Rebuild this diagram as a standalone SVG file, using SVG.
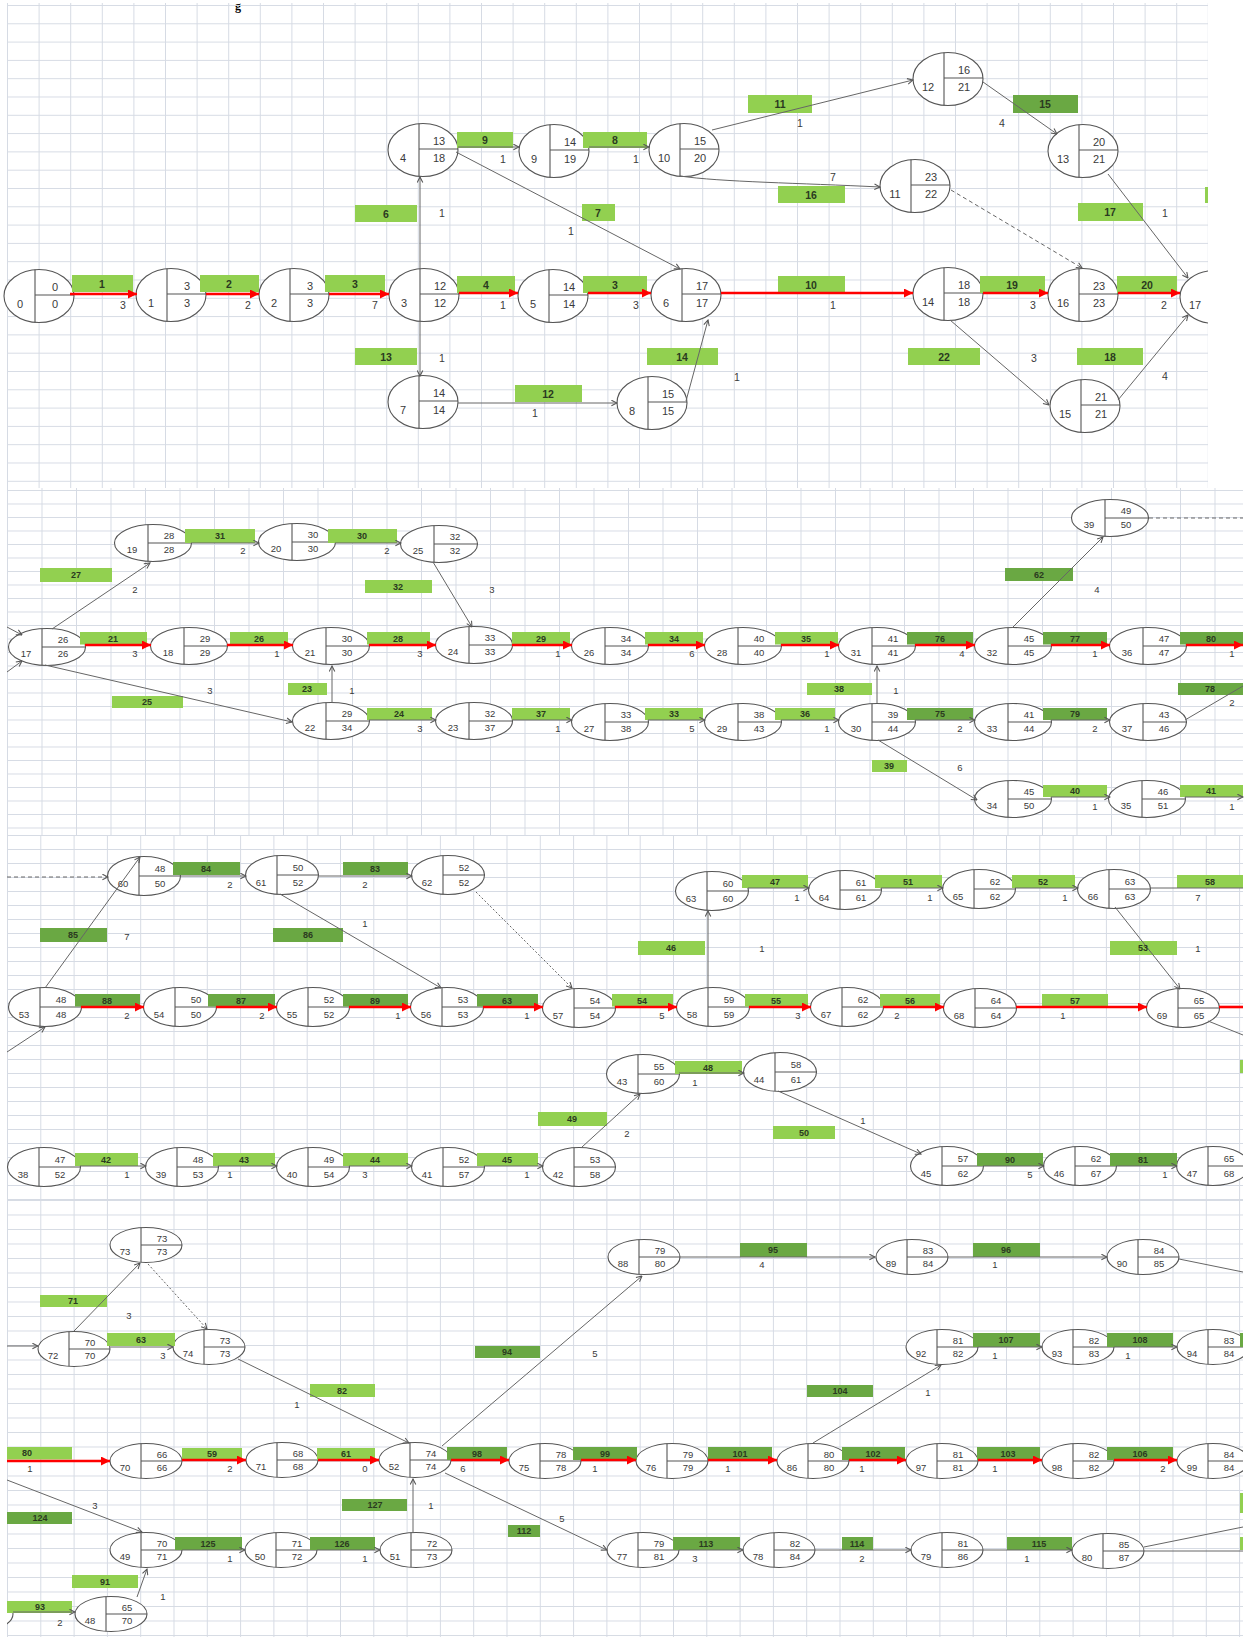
<svg xmlns="http://www.w3.org/2000/svg" width="1251" height="1637" viewBox="0 0 1251 1637">
<style>
.nd{fill:#fff;stroke:#555;stroke-width:1.1}
.dv{fill:none;stroke:#555;stroke-width:1.1}
.gl{fill:none;stroke:#666;stroke-width:1}
.cr{fill:none;stroke:#f00;stroke-width:2.6}
.ds{stroke-dasharray:4 3}
.dt{stroke-dasharray:2 2}
.b1{fill:#92d050}
.b2{fill:#6aa843}
text{font-family:"Liberation Sans",Arial,sans-serif;text-anchor:middle;dominant-baseline:central;fill:#3a3a3a}
.t1 text{font-size:11px}
.t2 text{font-size:9.5px}
.bt{font-weight:bold;font-size:9px;fill:#2a3a20}
.p1 .bt{font-size:10.5px}
.du{font-size:9.5px}
.p1 .du{font-size:10.5px}
</style>
<defs>
<pattern id="g1" x="7" y="5" width="31.6" height="18.3" patternUnits="userSpaceOnUse"><path d="M0,0.5H31.6M0.5,0V18.3" fill="none" stroke="#d6dbe4"/></pattern>
<pattern id="g2" x="7" y="490" width="34.5" height="13.5" patternUnits="userSpaceOnUse"><path d="M0,0.5H34.5M0.5,0V13.5" fill="none" stroke="#d6dbe4"/></pattern>
<pattern id="g3" x="7" y="835" width="33.3" height="14" patternUnits="userSpaceOnUse"><path d="M0,0.5H33.3M0.5,0V14" fill="none" stroke="#d6dbe4"/></pattern>
<pattern id="g4" x="7" y="1200" width="33.3" height="14.5" patternUnits="userSpaceOnUse"><path d="M0,0.5H33.3M0.5,0V14.5" fill="none" stroke="#d6dbe4"/></pattern>
<clipPath id="c1"><rect x="7" y="0" width="1201" height="490"/></clipPath>
<clipPath id="c2"><rect x="7" y="0" width="1236" height="1637"/></clipPath>
<marker id="ar" viewBox="0 0 10 10" refX="10" refY="5" markerWidth="11" markerHeight="9" markerUnits="userSpaceOnUse" orient="auto"><path d="M0,0L10,5L0,10z" fill="#f00"/></marker>
<marker id="ag" viewBox="0 0 10 10" refX="9" refY="5" markerWidth="7" markerHeight="7" markerUnits="userSpaceOnUse" orient="auto"><path d="M1,1L9,5L1,9" fill="none" stroke="#555" stroke-width="1.5"/></marker>
<g id="s1"><ellipse class="nd" rx="35" ry="26.5"/><path class="dv" d="M-4,-26.4V26.4M-4,-1H35"/></g>
<g id="s2"><ellipse class="nd" rx="38.5" ry="18.5"/><path class="dv" d="M-5,-18.3V18.3M-5,0H38.5"/></g>
<g id="s3"><ellipse class="nd" rx="36.5" ry="19.5"/><path class="dv" d="M-5,-19.3V19.3M-5,0H36.5"/></g>
<g id="s4"><ellipse class="nd" rx="36" ry="17.5"/><path class="dv" d="M-5,-17.3V17.3M-5,0H36"/></g>
</defs>
<rect width="1251" height="1637" fill="#fff"/>
<text x="238" y="6" style="font-family:'Liberation Serif',serif;font-weight:bold;font-size:12px;fill:#000">g</text>
<g id="grid">
<rect x="7" y="3" width="1201" height="485" fill="url(#g1)"/>
<rect x="7" y="488" width="1236" height="347" fill="url(#g2)"/>
<rect x="7" y="835" width="1236" height="365" fill="url(#g3)"/>
<rect x="7" y="1200" width="1236" height="437" fill="url(#g4)"/>
</g>
<g id="nodes">
<g class="t1">
<g id="p1-n0" transform="translate(39,296)"><use href="#s1"/><text x="-19" y="8">0</text><text x="16" y="-9">0</text><text x="16" y="8">0</text></g>
<g id="p1-n1" transform="translate(171,295)"><use href="#s1"/><text x="-20" y="8">1</text><text x="16" y="-9">3</text><text x="16" y="8">3</text></g>
<g id="p1-n2" transform="translate(294,295)"><use href="#s1"/><text x="-20" y="8">2</text><text x="16" y="-9">3</text><text x="16" y="8">3</text></g>
<g id="p1-n3" transform="translate(424,295)"><use href="#s1"/><text x="-20" y="8">3</text><text x="16" y="-9">12</text><text x="16" y="8">12</text></g>
<g id="p1-n4" transform="translate(423,150)"><use href="#s1"/><text x="-20" y="8">4</text><text x="16" y="-9">13</text><text x="16" y="8">18</text></g>
<g id="p1-n7" transform="translate(423,402)"><use href="#s1"/><text x="-20" y="8">7</text><text x="16" y="-9">14</text><text x="16" y="8">14</text></g>
<g id="p1-n9" transform="translate(554,151)"><use href="#s1"/><text x="-20" y="8">9</text><text x="16" y="-9">14</text><text x="16" y="8">19</text></g>
<g id="p1-n10" transform="translate(684,150)"><use href="#s1"/><text x="-20" y="8">10</text><text x="16" y="-9">15</text><text x="16" y="8">20</text></g>
<g id="p1-n5" transform="translate(553,296)"><use href="#s1"/><text x="-20" y="8">5</text><text x="16" y="-9">14</text><text x="16" y="8">14</text></g>
<g id="p1-n6" transform="translate(686,295)"><use href="#s1"/><text x="-20" y="8">6</text><text x="16" y="-9">17</text><text x="16" y="8">17</text></g>
<g id="p1-n8" transform="translate(652,403)"><use href="#s1"/><text x="-20" y="8">8</text><text x="16" y="-9">15</text><text x="16" y="8">15</text></g>
<g id="p1-n12" transform="translate(948,79)"><use href="#s1"/><text x="-20" y="8">12</text><text x="16" y="-9">16</text><text x="16" y="8">21</text></g>
<g id="p1-n13" transform="translate(1083,151)"><use href="#s1"/><text x="-20" y="8">13</text><text x="16" y="-9">20</text><text x="16" y="8">21</text></g>
<g id="p1-n11" transform="translate(915,186)"><use href="#s1"/><text x="-20" y="8">11</text><text x="16" y="-9">23</text><text x="16" y="8">22</text></g>
<g id="p1-n14" transform="translate(948,294)"><use href="#s1"/><text x="-20" y="8">14</text><text x="16" y="-9">18</text><text x="16" y="8">18</text></g>
<g id="p1-n16" transform="translate(1083,295)"><use href="#s1"/><text x="-20" y="8">16</text><text x="16" y="-9">23</text><text x="16" y="8">23</text></g>
<g id="p1-n15" transform="translate(1085,406)"><use href="#s1"/><text x="-20" y="8">15</text><text x="16" y="-9">21</text><text x="16" y="8">21</text></g>
<g id="p1-n17" clip-path="url(#c1)"><g transform="translate(1215,297)"><use href="#s1"/><text x="-20" y="8">17</text></g></g>
</g>
<g class="t2">
<g id="p2-n17" transform="translate(47,647)"><use href="#s2"/><text x="-21" y="6">17</text><text x="16" y="-8">26</text><text x="16" y="6">26</text></g>
<g id="p2-n19" transform="translate(153,543)"><use href="#s2"/><text x="-21" y="6">19</text><text x="16" y="-8">28</text><text x="16" y="6">28</text></g>
<g id="p2-n20" transform="translate(297,542)"><use href="#s2"/><text x="-21" y="6">20</text><text x="16" y="-8">30</text><text x="16" y="6">30</text></g>
<g id="p2-n25" transform="translate(439,544)"><use href="#s2"/><text x="-21" y="6">25</text><text x="16" y="-8">32</text><text x="16" y="6">32</text></g>
<g id="p2-n18" transform="translate(189,646)"><use href="#s2"/><text x="-21" y="6">18</text><text x="16" y="-8">29</text><text x="16" y="6">29</text></g>
<g id="p2-n21" transform="translate(331,646)"><use href="#s2"/><text x="-21" y="6">21</text><text x="16" y="-8">30</text><text x="16" y="6">30</text></g>
<g id="p2-n22" transform="translate(331,721)"><use href="#s2"/><text x="-21" y="6">22</text><text x="16" y="-8">29</text><text x="16" y="6">34</text></g>
<g id="p2-n24" transform="translate(474,645)"><use href="#s2"/><text x="-21" y="6">24</text><text x="16" y="-8">33</text><text x="16" y="6">33</text></g>
<g id="p2-n26" transform="translate(610,646)"><use href="#s2"/><text x="-21" y="6">26</text><text x="16" y="-8">34</text><text x="16" y="6">34</text></g>
<g id="p2-n28" transform="translate(743,646)"><use href="#s2"/><text x="-21" y="6">28</text><text x="16" y="-8">40</text><text x="16" y="6">40</text></g>
<g id="p2-n23" transform="translate(474,721)"><use href="#s2"/><text x="-21" y="6">23</text><text x="16" y="-8">32</text><text x="16" y="6">37</text></g>
<g id="p2-n27" transform="translate(610,722)"><use href="#s2"/><text x="-21" y="6">27</text><text x="16" y="-8">33</text><text x="16" y="6">38</text></g>
<g id="p2-n29" transform="translate(743,722)"><use href="#s2"/><text x="-21" y="6">29</text><text x="16" y="-8">38</text><text x="16" y="6">43</text></g>
<g id="p2-n31" transform="translate(877,646)"><use href="#s2"/><text x="-21" y="6">31</text><text x="16" y="-8">41</text><text x="16" y="6">41</text></g>
<g id="p2-n32" transform="translate(1013,646)"><use href="#s2"/><text x="-21" y="6">32</text><text x="16" y="-8">45</text><text x="16" y="6">45</text></g>
<g id="p2-n36" transform="translate(1148,646)"><use href="#s2"/><text x="-21" y="6">36</text><text x="16" y="-8">47</text><text x="16" y="6">47</text></g>
<g id="p2-n39" transform="translate(1110,518)"><use href="#s2"/><text x="-21" y="6">39</text><text x="16" y="-8">49</text><text x="16" y="6">50</text></g>
<g id="p2-n30" transform="translate(877,722)"><use href="#s2"/><text x="-21" y="6">30</text><text x="16" y="-8">39</text><text x="16" y="6">44</text></g>
<g id="p2-n33" transform="translate(1013,722)"><use href="#s2"/><text x="-21" y="6">33</text><text x="16" y="-8">41</text><text x="16" y="6">44</text></g>
<g id="p2-n37" transform="translate(1148,722)"><use href="#s2"/><text x="-21" y="6">37</text><text x="16" y="-8">43</text><text x="16" y="6">46</text></g>
<g id="p2-n34" transform="translate(1013,799)"><use href="#s2"/><text x="-21" y="6">34</text><text x="16" y="-8">45</text><text x="16" y="6">50</text></g>
<g id="p2-n35" transform="translate(1147,799)"><use href="#s2"/><text x="-21" y="6">35</text><text x="16" y="-8">46</text><text x="16" y="6">51</text></g>

<g id="p3-n60" transform="translate(144,876)"><use href="#s3"/><text x="-21" y="7">60</text><text x="16" y="-8">48</text><text x="16" y="7">50</text></g>
<g id="p3-n61" transform="translate(282,875)"><use href="#s3"/><text x="-21" y="7">61</text><text x="16" y="-8">50</text><text x="16" y="7">52</text></g>
<g id="p3-n62" transform="translate(448,875)"><use href="#s3"/><text x="-21" y="7">62</text><text x="16" y="-8">52</text><text x="16" y="7">52</text></g>
<g id="p3-n53" transform="translate(45,1007)"><use href="#s3"/><text x="-21" y="7">53</text><text x="16" y="-8">48</text><text x="16" y="7">48</text></g>
<g id="p3-n54" transform="translate(180,1007)"><use href="#s3"/><text x="-21" y="7">54</text><text x="16" y="-8">50</text><text x="16" y="7">50</text></g>
<g id="p3-n55" transform="translate(313,1007)"><use href="#s3"/><text x="-21" y="7">55</text><text x="16" y="-8">52</text><text x="16" y="7">52</text></g>
<g id="p3-n56" transform="translate(447,1007)"><use href="#s3"/><text x="-21" y="7">56</text><text x="16" y="-8">53</text><text x="16" y="7">53</text></g>
<g id="p3-n57" transform="translate(579,1008)"><use href="#s3"/><text x="-21" y="7">57</text><text x="16" y="-8">54</text><text x="16" y="7">54</text></g>
<g id="p3-n58" transform="translate(713,1007)"><use href="#s3"/><text x="-21" y="7">58</text><text x="16" y="-8">59</text><text x="16" y="7">59</text></g>
<g id="p3-n67" transform="translate(847,1007)"><use href="#s3"/><text x="-21" y="7">67</text><text x="16" y="-8">62</text><text x="16" y="7">62</text></g>
<g id="p3-n63" transform="translate(712,891)"><use href="#s3"/><text x="-21" y="7">63</text><text x="16" y="-8">60</text><text x="16" y="7">60</text></g>
<g id="p3-n64" transform="translate(845,890)"><use href="#s3"/><text x="-21" y="7">64</text><text x="16" y="-8">61</text><text x="16" y="7">61</text></g>
<g id="p3-n65" transform="translate(979,889)"><use href="#s3"/><text x="-21" y="7">65</text><text x="16" y="-8">62</text><text x="16" y="7">62</text></g>
<g id="p3-n66" transform="translate(1114,889)"><use href="#s3"/><text x="-21" y="7">66</text><text x="16" y="-8">63</text><text x="16" y="7">63</text></g>
<g id="p3-n68" transform="translate(980,1008)"><use href="#s3"/><text x="-21" y="7">68</text><text x="16" y="-8">64</text><text x="16" y="7">64</text></g>
<g id="p3-n69" transform="translate(1183,1008)"><use href="#s3"/><text x="-21" y="7">69</text><text x="16" y="-8">65</text><text x="16" y="7">65</text></g>
<g id="p3-n38" transform="translate(44,1167)"><use href="#s3"/><text x="-21" y="7">38</text><text x="16" y="-8">47</text><text x="16" y="7">52</text></g>
<g id="p3-n39" transform="translate(182,1167)"><use href="#s3"/><text x="-21" y="7">39</text><text x="16" y="-8">48</text><text x="16" y="7">53</text></g>
<g id="p3-n40" transform="translate(313,1167)"><use href="#s3"/><text x="-21" y="7">40</text><text x="16" y="-8">49</text><text x="16" y="7">54</text></g>
<g id="p3-n41" transform="translate(448,1167)"><use href="#s3"/><text x="-21" y="7">41</text><text x="16" y="-8">52</text><text x="16" y="7">57</text></g>
<g id="p3-n42" transform="translate(579,1167)"><use href="#s3"/><text x="-21" y="7">42</text><text x="16" y="-8">53</text><text x="16" y="7">58</text></g>
<g id="p3-n43" transform="translate(643,1074)"><use href="#s3"/><text x="-21" y="7">43</text><text x="16" y="-8">55</text><text x="16" y="7">60</text></g>
<g id="p3-n44" transform="translate(780,1072)"><use href="#s3"/><text x="-21" y="7">44</text><text x="16" y="-8">58</text><text x="16" y="7">61</text></g>
<g id="p3-n45" transform="translate(947,1166)"><use href="#s3"/><text x="-21" y="7">45</text><text x="16" y="-8">57</text><text x="16" y="7">62</text></g>
<g id="p3-n46" transform="translate(1080,1166)"><use href="#s3"/><text x="-21" y="7">46</text><text x="16" y="-8">62</text><text x="16" y="7">67</text></g>
<g id="p3-n47" clip-path="url(#c2)"><g transform="translate(1213,1166)"><use href="#s3"/><text x="-21" y="7">47</text><text x="16" y="-8">65</text><text x="16" y="7">68</text></g></g>

<g id="p4-n73" transform="translate(146,1245)"><use href="#s4"/><text x="-21" y="6">73</text><text x="16" y="-7">73</text><text x="16" y="6">73</text></g>
<g id="p4-n72" transform="translate(74,1349)"><use href="#s4"/><text x="-21" y="6">72</text><text x="16" y="-7">70</text><text x="16" y="6">70</text></g>
<g id="p4-n74" transform="translate(209,1347)"><use href="#s4"/><text x="-21" y="6">74</text><text x="16" y="-7">73</text><text x="16" y="6">73</text></g>
<g id="p4-n70" transform="translate(146,1461)"><use href="#s4"/><text x="-21" y="6">70</text><text x="16" y="-7">66</text><text x="16" y="6">66</text></g>
<g id="p4-n71" transform="translate(282,1460)"><use href="#s4"/><text x="-21" y="6">71</text><text x="16" y="-7">68</text><text x="16" y="6">68</text></g>
<g id="p4-n52" transform="translate(415,1460)"><use href="#s4"/><text x="-21" y="6">52</text><text x="16" y="-7">74</text><text x="16" y="6">74</text></g>
<g id="p4-n49" transform="translate(146,1550)"><use href="#s4"/><text x="-21" y="6">49</text><text x="16" y="-7">70</text><text x="16" y="6">71</text></g>
<g id="p4-n50" transform="translate(281,1550)"><use href="#s4"/><text x="-21" y="6">50</text><text x="16" y="-7">71</text><text x="16" y="6">72</text></g>
<g id="p4-n51" transform="translate(416,1550)"><use href="#s4"/><text x="-21" y="6">51</text><text x="16" y="-7">72</text><text x="16" y="6">73</text></g>
<g id="p4-n48" transform="translate(111,1614)"><use href="#s4"/><text x="-21" y="6">48</text><text x="16" y="-7">65</text><text x="16" y="6">70</text></g>
<g id="p4-n47" clip-path="url(#c2)"><ellipse class="nd" cx="-23" cy="1614" rx="36" ry="17.5"/></g>
<g id="p4-n88" transform="translate(644,1257)"><use href="#s4"/><text x="-21" y="6">88</text><text x="16" y="-7">79</text><text x="16" y="6">80</text></g>
<g id="p4-n75" transform="translate(545,1461)"><use href="#s4"/><text x="-21" y="6">75</text><text x="16" y="-7">78</text><text x="16" y="6">78</text></g>
<g id="p4-n76" transform="translate(672,1461)"><use href="#s4"/><text x="-21" y="6">76</text><text x="16" y="-7">79</text><text x="16" y="6">79</text></g>
<g id="p4-n86" transform="translate(813,1461)"><use href="#s4"/><text x="-21" y="6">86</text><text x="16" y="-7">80</text><text x="16" y="6">80</text></g>
<g id="p4-n77" transform="translate(643,1550)"><use href="#s4"/><text x="-21" y="6">77</text><text x="16" y="-7">79</text><text x="16" y="6">81</text></g>
<g id="p4-n78" transform="translate(779,1550)"><use href="#s4"/><text x="-21" y="6">78</text><text x="16" y="-7">82</text><text x="16" y="6">84</text></g>
<g id="p4-n89" transform="translate(912,1257)"><use href="#s4"/><text x="-21" y="6">89</text><text x="16" y="-7">83</text><text x="16" y="6">84</text></g>
<g id="p4-n90" transform="translate(1143,1257)"><use href="#s4"/><text x="-21" y="6">90</text><text x="16" y="-7">84</text><text x="16" y="6">85</text></g>
<g id="p4-n92" transform="translate(942,1347)"><use href="#s4"/><text x="-21" y="6">92</text><text x="16" y="-7">81</text><text x="16" y="6">82</text></g>
<g id="p4-n93" transform="translate(1078,1347)"><use href="#s4"/><text x="-21" y="6">93</text><text x="16" y="-7">82</text><text x="16" y="6">83</text></g>
<g id="p4-n94" clip-path="url(#c2)"><g transform="translate(1213,1347)"><use href="#s4"/><text x="-21" y="6">94</text><text x="16" y="-7">83</text><text x="16" y="6">84</text></g></g>
<g id="p4-n97" transform="translate(942,1461)"><use href="#s4"/><text x="-21" y="6">97</text><text x="16" y="-7">81</text><text x="16" y="6">81</text></g>
<g id="p4-n98" transform="translate(1078,1461)"><use href="#s4"/><text x="-21" y="6">98</text><text x="16" y="-7">82</text><text x="16" y="6">82</text></g>
<g id="p4-n99" clip-path="url(#c2)"><g transform="translate(1213,1461)"><use href="#s4"/><text x="-21" y="6">99</text><text x="16" y="-7">84</text><text x="16" y="6">84</text></g></g>
<g id="p4-n79" transform="translate(947,1550)"><use href="#s4"/><text x="-21" y="6">79</text><text x="16" y="-7">81</text><text x="16" y="6">86</text></g>
<g id="p4-n80" transform="translate(1108,1551)"><use href="#s4"/><text x="-21" y="6">80</text><text x="16" y="-7">85</text><text x="16" y="6">87</text></g>
</g>
</g>
<g id="connectors">
<g class="p1">
<g id="e1-0-1"><rect class="b1" x="72" y="275" width="61" height="17"/><line class="cr" x1="70" y1="294" x2="137" y2="294" marker-end="url(#ar)"/><text class="bt" x="102" y="283.5">1</text><text class="du" x="123" y="305">3</text></g>
<g id="e1-1-2"><rect class="b1" x="200" y="275" width="59" height="17"/><line class="cr" x1="206" y1="294" x2="259" y2="294" marker-end="url(#ar)"/><text class="bt" x="229" y="283.5">2</text><text class="du" x="248" y="305">2</text></g>
<g id="e1-2-3"><rect class="b1" x="325" y="275" width="60" height="17"/><line class="cr" x1="329" y1="294" x2="389" y2="294" marker-end="url(#ar)"/><text class="bt" x="355" y="283.5">3</text><text class="du" x="375" y="305">7</text></g>
<g id="e1-3-5"><rect class="b1" x="457" y="276" width="58" height="17"/><line class="cr" x1="459" y1="293" x2="518" y2="293" marker-end="url(#ar)"/><text class="bt" x="486" y="284.5">4</text><text class="du" x="503" y="305">1</text></g>
<g id="e1-5-6"><rect class="b1" x="583" y="276" width="64" height="17"/><line class="cr" x1="588" y1="293" x2="651" y2="293" marker-end="url(#ar)"/><text class="bt" x="615" y="284.5">3</text><text class="du" x="636" y="305">3</text></g>
<g id="e1-6-14"><rect class="b1" x="778" y="276" width="67" height="17"/><line class="cr" x1="721" y1="293" x2="913" y2="293" marker-end="url(#ar)"/><text class="bt" x="811" y="284.5">10</text><text class="du" x="833" y="305">1</text></g>
<g id="e1-14-16"><rect class="b1" x="980" y="276" width="65" height="17"/><line class="cr" x1="983" y1="293" x2="1048" y2="293" marker-end="url(#ar)"/><text class="bt" x="1012" y="284.5">19</text><text class="du" x="1033" y="305">3</text></g>
<g id="e1-16-17"><rect class="b1" x="1117" y="276" width="60" height="17"/><line class="cr" x1="1118" y1="293" x2="1180" y2="293" marker-end="url(#ar)"/><text class="bt" x="1147" y="284.5">20</text><text class="du" x="1164" y="305">2</text></g>
<g id="e1-3-4"><rect class="b1" x="355" y="205" width="62" height="17"/><line class="gl" x1="420" y1="269" x2="420" y2="177" marker-end="url(#ag)"/><text class="bt" x="386" y="213.5">6</text><text class="du" x="442" y="213">1</text></g>
<g id="e1-3-7"><rect class="b1" x="355" y="348" width="62" height="17"/><line class="gl" x1="420" y1="322" x2="420" y2="376" marker-end="url(#ag)"/><text class="bt" x="386" y="356.5">13</text><text class="du" x="442" y="358">1</text></g>
<g id="e1-4-9"><rect class="b1" x="457" y="132" width="56" height="16"/><line class="gl" x1="458" y1="147" x2="519" y2="147" marker-end="url(#ag)"/><text class="bt" x="485" y="140">9</text><text class="du" x="503" y="159">1</text></g>
<g id="e1-9-10"><rect class="b1" x="583" y="132" width="64" height="16"/><line class="gl" x1="589" y1="147" x2="649" y2="147" marker-end="url(#ag)"/><text class="bt" x="615" y="140">8</text><text class="du" x="636" y="159">1</text></g>
<g id="e1-4-6"><rect class="b1" x="582" y="204" width="33" height="17"/><line class="gl" x1="456" y1="152" x2="680" y2="269" marker-end="url(#ag)"/><text class="bt" x="598" y="212.5">7</text><text class="du" x="571" y="231">1</text></g>
<g id="e1-7-8"><rect class="b1" x="515" y="385" width="67" height="17"/><line class="gl" x1="458" y1="403" x2="617" y2="403" marker-end="url(#ag)"/><text class="bt" x="548" y="393.5">12</text><text class="du" x="535" y="413">1</text></g>
<g id="e1-8-6"><rect class="b1" x="647" y="348" width="71" height="17"/><line class="gl" x1="686" y1="401" x2="708" y2="320" marker-end="url(#ag)"/><text class="bt" x="682" y="356.5">14</text><text class="du" x="737" y="377">1</text></g>
<g id="e1-10-12"><rect class="b1" x="748" y="95" width="64" height="18"/><line class="gl" x1="712" y1="130" x2="913" y2="80" marker-end="url(#ag)"/><text class="bt" x="780" y="104">11</text><text class="du" x="800" y="123">1</text></g>
<g id="e1-10-11"><rect class="b1" x="778" y="186" width="67" height="17"/><path class="gl" d="M680,176C720,182 800,183 880,187" marker-end="url(#ag)"/><text class="bt" x="811" y="194.5">16</text><text class="du" x="833" y="177">7</text></g>
<g id="e1-12-13"><rect class="b2" x="1013" y="95" width="65" height="18"/><line class="gl" x1="983" y1="82" x2="1057" y2="134" marker-end="url(#ag)"/><text class="bt" x="1045" y="104">15</text><text class="du" x="1002" y="123">4</text></g>
<g id="e1-11-16"><line class="gl ds" x1="951" y1="190" x2="1082" y2="268" marker-end="url(#ag)"/></g>
<g id="e1-13-17"><rect class="b1" x="1078" y="203" width="65" height="18"/><line class="gl" x1="1108" y1="174" x2="1188" y2="278" marker-end="url(#ag)"/><text class="bt" x="1110" y="212">17</text><text class="du" x="1165" y="213">1</text></g>
<g id="e1-14-15"><rect class="b1" x="908" y="348" width="72" height="17"/><line class="gl" x1="950" y1="320" x2="1049" y2="405" marker-end="url(#ag)"/><text class="bt" x="944" y="356.5">22</text><text class="du" x="1034" y="358">3</text></g>
<g id="e1-15-17"><rect class="b1" x="1077" y="348" width="66" height="17"/><line class="gl" x1="1118" y1="400" x2="1188" y2="315" marker-end="url(#ag)"/><text class="bt" x="1110" y="356.5">18</text><text class="du" x="1165" y="376">4</text></g>
<rect class="b1" x="1205" y="187" width="3" height="16"/>
</g>
<g class="p2">
<g id="e2-in1"><line class="gl" x1="7" y1="627" x2="22" y2="635" marker-end="url(#ag)"/></g>
<g id="e2-in2"><line class="gl" x1="7" y1="672" x2="22" y2="661" marker-end="url(#ag)"/></g>
<g id="e2-17-19"><rect class="b1" x="40" y="568" width="72" height="14"/><line class="gl" x1="52" y1="629" x2="150" y2="563" marker-end="url(#ag)"/><text class="bt" x="76" y="575">27</text><text class="du" x="135" y="589">2</text></g>
<g id="e2-19-20"><rect class="b1" x="185" y="529" width="70" height="14"/><line class="gl" x1="191" y1="543" x2="259" y2="543" marker-end="url(#ag)"/><text class="bt" x="220" y="536">31</text><text class="du" x="243" y="550">2</text></g>
<g id="e2-20-25"><rect class="b1" x="328" y="529" width="69" height="14"/><line class="gl" x1="335" y1="543" x2="401" y2="543" marker-end="url(#ag)"/><text class="bt" x="362" y="536">30</text><text class="du" x="387" y="550">2</text></g>
<g id="e2-25-24"><rect class="b1" x="365" y="580" width="67" height="13"/><line class="gl" x1="433" y1="562" x2="472" y2="627" marker-end="url(#ag)"/><text class="bt" x="398" y="586.5">32</text><text class="du" x="492" y="589">3</text></g>
<g id="e2-17-18"><rect class="b1" x="80" y="632" width="67" height="12.5"/><line class="cr" x1="85" y1="645" x2="151" y2="645" marker-end="url(#ar)"/><text class="bt" x="113" y="638.5">21</text><text class="du" x="135" y="653">3</text></g>
<g id="e2-18-21"><rect class="b1" x="230" y="632" width="58" height="12.5"/><line class="cr" x1="227" y1="645" x2="293" y2="645" marker-end="url(#ar)"/><text class="bt" x="259" y="638.5">26</text><text class="du" x="277" y="653">1</text></g>
<g id="e2-21-24"><rect class="b1" x="367" y="632" width="63" height="12.5"/><line class="cr" x1="369" y1="645" x2="436" y2="645" marker-end="url(#ar)"/><text class="bt" x="398" y="638.5">28</text><text class="du" x="420" y="653">3</text></g>
<g id="e2-24-26"><rect class="b1" x="512" y="632" width="58" height="12.5"/><line class="cr" x1="512" y1="645" x2="572" y2="645" marker-end="url(#ar)"/><text class="bt" x="541" y="638.5">29</text><text class="du" x="558" y="653">1</text></g>
<g id="e2-26-28"><rect class="b1" x="645" y="632" width="58" height="12.5"/><line class="cr" x1="648" y1="645" x2="705" y2="645" marker-end="url(#ar)"/><text class="bt" x="674" y="638.5">34</text><text class="du" x="692" y="653">6</text></g>
<g id="e2-28-31"><rect class="b1" x="775" y="632" width="63" height="12.5"/><line class="cr" x1="781" y1="645" x2="839" y2="645" marker-end="url(#ar)"/><text class="bt" x="806" y="638.5">35</text><text class="du" x="827" y="653">1</text></g>
<g id="e2-31-32"><rect class="b2" x="907" y="632" width="66" height="12.5"/><line class="cr" x1="915" y1="645" x2="975" y2="645" marker-end="url(#ar)"/><text class="bt" x="940" y="638.5">76</text><text class="du" x="962" y="653">4</text></g>
<g id="e2-32-36"><rect class="b2" x="1043" y="632" width="64" height="12.5"/><line class="cr" x1="1051" y1="645" x2="1110" y2="645" marker-end="url(#ar)"/><text class="bt" x="1075" y="638.5">77</text><text class="du" x="1095" y="653">1</text></g>
<g id="e2-36-out"><rect class="b2" x="1180" y="632" width="63" height="12.5"/><line class="cr" x1="1186" y1="645" x2="1243" y2="645" marker-end="url(#ar)"/><text class="bt" x="1211" y="638.5">80</text><text class="du" x="1232" y="653">1</text></g>
<g id="e2-32-39"><rect class="b2" x="1005" y="568" width="68" height="13"/><line class="gl" x1="1012" y1="628" x2="1103" y2="537" marker-end="url(#ag)"/><text class="bt" x="1039" y="574.5">62</text><text class="du" x="1097" y="589">4</text></g>
<g id="e2-39-out"><line class="gl ds" x1="1149" y1="518" x2="1243" y2="518"/></g>
<g id="e2-17-22"><rect class="b1" x="112" y="696" width="71" height="12"/><line class="gl" x1="45" y1="665" x2="292" y2="722" marker-end="url(#ag)"/><text class="bt" x="147" y="702">25</text><text class="du" x="210" y="690">3</text></g>
<g id="e2-22-21"><rect class="b1" x="288" y="683" width="39" height="12"/><line class="gl" x1="332" y1="703" x2="332" y2="666" marker-end="url(#ag)"/><text class="bt" x="307" y="689">23</text><text class="du" x="352" y="690">1</text></g>
<g id="e2-22-23"><rect class="b1" x="367" y="708" width="65" height="12"/><line class="gl" x1="369" y1="720" x2="436" y2="720" marker-end="url(#ag)"/><text class="bt" x="399" y="714">24</text><text class="du" x="420" y="728">3</text></g>
<g id="e2-23-27"><rect class="b1" x="512" y="708" width="58" height="12"/><line class="gl" x1="512" y1="720" x2="572" y2="720" marker-end="url(#ag)"/><text class="bt" x="541" y="714">37</text><text class="du" x="558" y="728">1</text></g>
<g id="e2-27-29"><rect class="b1" x="645" y="708" width="58" height="12"/><line class="gl" x1="648" y1="720" x2="705" y2="720" marker-end="url(#ag)"/><text class="bt" x="674" y="714">33</text><text class="du" x="692" y="728">5</text></g>
<g id="e2-29-30"><rect class="b1" x="775" y="708" width="60" height="12"/><line class="gl" x1="781" y1="720" x2="839" y2="720" marker-end="url(#ag)"/><text class="bt" x="805" y="714">36</text><text class="du" x="827" y="728">1</text></g>
<g id="e2-30-31"><rect class="b1" x="807" y="683" width="65" height="12"/><line class="gl" x1="877" y1="703" x2="877" y2="666" marker-end="url(#ag)"/><text class="bt" x="839" y="689">38</text><text class="du" x="896" y="690">1</text></g>
<g id="e2-30-33"><rect class="b2" x="907" y="708" width="66" height="12"/><line class="gl" x1="915" y1="720" x2="975" y2="720" marker-end="url(#ag)"/><text class="bt" x="940" y="714">75</text><text class="du" x="960" y="728">2</text></g>
<g id="e2-33-37"><rect class="b2" x="1043" y="708" width="64" height="12"/><line class="gl" x1="1051" y1="720" x2="1110" y2="720" marker-end="url(#ag)"/><text class="bt" x="1075" y="714">79</text><text class="du" x="1095" y="728">2</text></g>
<g id="e2-37-out"><rect class="b2" x="1178" y="683" width="65" height="12"/><line class="gl" x1="1185" y1="720" x2="1243" y2="686"/><text class="bt" x="1210" y="689">78</text><text class="du" x="1232" y="702">2</text></g>
<g id="e2-30-34"><rect class="b1" x="872" y="760" width="35" height="12"/><line class="gl" x1="878" y1="740" x2="977" y2="800" marker-end="url(#ag)"/><text class="bt" x="889" y="766">39</text><text class="du" x="960" y="767">6</text></g>
<g id="e2-34-35"><rect class="b1" x="1043" y="785" width="64" height="12"/><line class="gl" x1="1051" y1="797" x2="1110" y2="797" marker-end="url(#ag)"/><text class="bt" x="1075" y="791">40</text><text class="du" x="1095" y="806">1</text></g>
<g id="e2-35-out"><rect class="b1" x="1180" y="785" width="63" height="12"/><line class="gl" x1="1185" y1="797" x2="1243" y2="797" marker-end="url(#ag)"/><text class="bt" x="1211" y="791">41</text><text class="du" x="1232" y="806">1</text></g>
</g>
<g class="p3">
<g id="e3-in60"><line class="gl ds" x1="7" y1="877" x2="108" y2="877" marker-end="url(#ag)"/></g>
<g id="e3-53-60"><rect class="b2" x="40" y="928" width="67" height="14"/><line class="gl" x1="45" y1="988" x2="140" y2="857" marker-end="url(#ag)"/><text class="bt" x="73" y="935">85</text><text class="du" x="127" y="936">7</text></g>
<g id="e3-in53"><line class="gl" x1="7" y1="1052" x2="45" y2="1027" marker-end="url(#ag)"/></g>
<g id="e3-60-61"><rect class="b2" x="173" y="862" width="67" height="13"/><line class="gl" x1="180" y1="876" x2="246" y2="876" marker-end="url(#ag)"/><text class="bt" x="206" y="868.5">84</text><text class="du" x="230" y="884">2</text></g>
<g id="e3-61-62"><rect class="b2" x="343" y="862" width="65" height="13"/><line class="gl" x1="318" y1="876" x2="412" y2="876" marker-end="url(#ag)"/><text class="bt" x="375" y="868.5">83</text><text class="du" x="365" y="884">2</text></g>
<g id="e3-61-56"><rect class="b2" x="273" y="928" width="70" height="14"/><line class="gl" x1="280" y1="894" x2="441" y2="988" marker-end="url(#ag)"/><text class="bt" x="308" y="935">86</text><text class="du" x="365" y="923">1</text></g>
<g id="e3-62-57"><line class="gl dt" x1="476" y1="892" x2="572" y2="988" marker-end="url(#ag)"/></g>
<g id="e3-53-54"><rect class="b2" x="75" y="994" width="65" height="12.5"/><line class="cr" x1="81" y1="1007" x2="144" y2="1007" marker-end="url(#ar)"/><text class="bt" x="107" y="1000.5">88</text><text class="du" x="127" y="1015">2</text></g>
<g id="e3-54-55"><rect class="b2" x="208" y="994" width="67" height="12.5"/><line class="cr" x1="216" y1="1007" x2="277" y2="1007" marker-end="url(#ar)"/><text class="bt" x="241" y="1000.5">87</text><text class="du" x="262" y="1015">2</text></g>
<g id="e3-55-56"><rect class="b2" x="343" y="994" width="65" height="12.5"/><line class="cr" x1="349" y1="1007" x2="411" y2="1007" marker-end="url(#ar)"/><text class="bt" x="375" y="1000.5">89</text><text class="du" x="398" y="1015">1</text></g>
<g id="e3-56-57"><rect class="b2" x="477" y="994" width="61" height="12.5"/><line class="cr" x1="483" y1="1007" x2="543" y2="1007" marker-end="url(#ar)"/><text class="bt" x="507" y="1000.5">63</text><text class="du" x="527" y="1015">1</text></g>
<g id="e3-57-58"><rect class="b1" x="612" y="994" width="61" height="12.5"/><line class="cr" x1="615" y1="1007" x2="677" y2="1007" marker-end="url(#ar)"/><text class="bt" x="642" y="1000.5">54</text><text class="du" x="662" y="1015">5</text></g>
<g id="e3-58-67"><rect class="b1" x="745" y="994" width="63" height="12.5"/><line class="cr" x1="749" y1="1007" x2="811" y2="1007" marker-end="url(#ar)"/><text class="bt" x="776" y="1000.5">55</text><text class="du" x="798" y="1015">3</text></g>
<g id="e3-67-68"><rect class="b1" x="880" y="994" width="60" height="12.5"/><line class="cr" x1="883" y1="1007" x2="944" y2="1007" marker-end="url(#ar)"/><text class="bt" x="910" y="1000.5">56</text><text class="du" x="897" y="1015">2</text></g>
<g id="e3-68-69"><rect class="b1" x="1042" y="994" width="66" height="12.5"/><line class="cr" x1="1016" y1="1007" x2="1147" y2="1007" marker-end="url(#ar)"/><text class="bt" x="1075" y="1000.5">57</text><text class="du" x="1063" y="1015">1</text></g>
<g id="e3-69-out"><line class="cr" x1="1219" y1="1007" x2="1243" y2="1007"/></g>
<g id="e3-69-out2"><line class="gl" x1="1208" y1="1021" x2="1243" y2="1035"/></g>
<g id="e3-58-63"><rect class="b1" x="638" y="941" width="67" height="14"/><line class="gl" x1="708" y1="988" x2="708" y2="911" marker-end="url(#ag)"/><text class="bt" x="671" y="948">46</text><text class="du" x="762" y="948">1</text></g>
<g id="e3-63-64"><rect class="b1" x="742" y="875" width="66" height="13"/><line class="gl" x1="748" y1="888" x2="809" y2="888" marker-end="url(#ag)"/><text class="bt" x="775" y="881.5">47</text><text class="du" x="797" y="897">1</text></g>
<g id="e3-64-65"><rect class="b1" x="875" y="875" width="67" height="13"/><line class="gl" x1="881" y1="888" x2="943" y2="888" marker-end="url(#ag)"/><text class="bt" x="908" y="881.5">51</text><text class="du" x="930" y="897">1</text></g>
<g id="e3-65-66"><rect class="b1" x="1012" y="875" width="63" height="13"/><line class="gl" x1="1015" y1="888" x2="1078" y2="888" marker-end="url(#ag)"/><text class="bt" x="1043" y="881.5">52</text><text class="du" x="1065" y="897">1</text></g>
<g id="e3-66-out"><rect class="b1" x="1177" y="875" width="66" height="13"/><line class="gl" x1="1150" y1="888" x2="1243" y2="888"/><text class="bt" x="1210" y="881.5">58</text><text class="du" x="1198" y="897">7</text></g>
<g id="e3-66-69"><rect class="b1" x="1110" y="941" width="67" height="14"/><line class="gl" x1="1115" y1="907" x2="1180" y2="989" marker-end="url(#ag)"/><text class="bt" x="1143" y="948">53</text><text class="du" x="1198" y="948">1</text></g>
<g id="e3-38-39"><rect class="b1" x="75" y="1153" width="63" height="13"/><line class="gl" x1="80" y1="1166" x2="146" y2="1166" marker-end="url(#ag)"/><text class="bt" x="106" y="1159.5">42</text><text class="du" x="127" y="1174">1</text></g>
<g id="e3-39-40"><rect class="b1" x="213" y="1153" width="62" height="13"/><line class="gl" x1="218" y1="1166" x2="277" y2="1166" marker-end="url(#ag)"/><text class="bt" x="244" y="1159.5">43</text><text class="du" x="230" y="1174">1</text></g>
<g id="e3-40-41"><rect class="b1" x="343" y="1153" width="65" height="13"/><line class="gl" x1="349" y1="1166" x2="412" y2="1166" marker-end="url(#ag)"/><text class="bt" x="375" y="1159.5">44</text><text class="du" x="365" y="1174">3</text></g>
<g id="e3-41-42"><rect class="b1" x="477" y="1153" width="61" height="13"/><line class="gl" x1="484" y1="1166" x2="543" y2="1166" marker-end="url(#ag)"/><text class="bt" x="507" y="1159.5">45</text><text class="du" x="527" y="1174">1</text></g>
<g id="e3-42-43"><rect class="b1" x="538" y="1112" width="69" height="14"/><line class="gl" x1="582" y1="1147" x2="640" y2="1094" marker-end="url(#ag)"/><text class="bt" x="572" y="1119">49</text><text class="du" x="627" y="1133">2</text></g>
<g id="e3-43-44"><rect class="b1" x="675" y="1061" width="67" height="13"/><line class="gl" x1="679" y1="1073" x2="744" y2="1073" marker-end="url(#ag)"/><text class="bt" x="708" y="1067.5">48</text><text class="du" x="695" y="1082">1</text></g>
<g id="e3-44-45"><rect class="b1" x="773" y="1126" width="62" height="13"/><line class="gl" x1="778" y1="1091" x2="921" y2="1154" marker-end="url(#ag)"/><text class="bt" x="804" y="1132.5">50</text><text class="du" x="863" y="1120">1</text></g>
<g id="e3-45-46"><rect class="b2" x="977" y="1153" width="66" height="13"/><line class="gl" x1="983" y1="1166" x2="1044" y2="1166" marker-end="url(#ag)"/><text class="bt" x="1010" y="1159.5">90</text><text class="du" x="1030" y="1174">5</text></g>
<g id="e3-46-47"><rect class="b2" x="1110" y="1153" width="67" height="13"/><line class="gl" x1="1116" y1="1166" x2="1177" y2="1166" marker-end="url(#ag)"/><text class="bt" x="1143" y="1159.5">81</text><text class="du" x="1165" y="1174">1</text></g>
<rect class="b1" x="1240" y="1060" width="3" height="13"/>
</g>
<g class="p4">
<g id="e4-in72"><line class="gl" x1="7" y1="1346" x2="38" y2="1346" marker-end="url(#ag)"/></g>
<g id="e4-72-73"><rect class="b1" x="40" y="1295" width="67" height="12"/><line class="gl" x1="74" y1="1331" x2="140" y2="1263" marker-end="url(#ag)"/><text class="bt" x="73" y="1301">71</text><text class="du" x="129" y="1315">3</text></g>
<g id="e4-73-74"><line class="gl dt" x1="148" y1="1264" x2="207" y2="1329" marker-end="url(#ag)"/></g>
<g id="e4-72-74"><rect class="b1" x="107" y="1333" width="68" height="13"/><line class="gl" x1="110" y1="1347" x2="173" y2="1347" marker-end="url(#ag)"/><text class="bt" x="141" y="1339.5">63</text><text class="du" x="163" y="1355">3</text></g>
<g id="e4-74-52"><rect class="b1" x="310" y="1384" width="65" height="13"/><line class="gl" x1="238" y1="1359" x2="409" y2="1443" marker-end="url(#ag)"/><text class="bt" x="342" y="1390.5">82</text><text class="du" x="297" y="1404">1</text></g>
<g id="e4-in70"><rect class="b1" x="7" y="1447" width="65" height="12.5"/><line class="cr" x1="7" y1="1461" x2="110" y2="1461" marker-end="url(#ar)"/><text class="bt" x="27" y="1453">80</text><text class="du" x="30" y="1468">1</text></g>
<g id="e4-70-71"><rect class="b1" x="182" y="1448" width="60" height="12"/><line class="cr" x1="182" y1="1460" x2="246" y2="1460" marker-end="url(#ar)"/><text class="bt" x="212" y="1454">59</text><text class="du" x="230" y="1468">2</text></g>
<g id="e4-71-52"><rect class="b1" x="317" y="1448" width="58" height="12"/><line class="cr" x1="318" y1="1460" x2="379" y2="1460" marker-end="url(#ar)"/><text class="bt" x="346" y="1454">61</text><text class="du" x="365" y="1468">0</text></g>
<g id="e4-in49"><rect class="b2" x="7" y="1512" width="65" height="12"/><line class="gl" x1="7" y1="1480" x2="142" y2="1532" marker-end="url(#ag)"/><text class="bt" x="40" y="1518">124</text><text class="du" x="95" y="1505">3</text></g>
<g id="e4-49-50"><rect class="b2" x="175" y="1537" width="67" height="13"/><line class="gl" x1="182" y1="1550" x2="245" y2="1550" marker-end="url(#ag)"/><text class="bt" x="208" y="1543.5">125</text><text class="du" x="230" y="1558">1</text></g>
<g id="e4-50-51"><rect class="b2" x="310" y="1537" width="65" height="13"/><line class="gl" x1="317" y1="1550" x2="380" y2="1550" marker-end="url(#ag)"/><text class="bt" x="342" y="1543.5">126</text><text class="du" x="365" y="1558">1</text></g>
<g id="e4-51-52"><rect class="b2" x="342" y="1499" width="65" height="12"/><line class="gl" x1="413" y1="1532" x2="413" y2="1479" marker-end="url(#ag)"/><text class="bt" x="375" y="1505">127</text><text class="du" x="431" y="1505">1</text></g>
<g id="e4-48-49"><rect class="b1" x="72" y="1575" width="66" height="13"/><line class="gl" x1="137" y1="1597" x2="147" y2="1569" marker-end="url(#ag)"/><text class="bt" x="105" y="1581.5">91</text><text class="du" x="163" y="1596">1</text></g>
<g id="e4-in48"><rect class="b1" x="7" y="1601" width="65" height="12"/><line class="gl" x1="13" y1="1612" x2="75" y2="1612" marker-end="url(#ag)"/><text class="bt" x="40" y="1607">93</text><text class="du" x="60" y="1622">2</text></g>
<g id="e4-52-88"><rect class="b2" x="475" y="1346" width="65" height="12"/><line class="gl" x1="442" y1="1446" x2="642" y2="1276" marker-end="url(#ag)"/><text class="bt" x="507" y="1352">94</text><text class="du" x="595" y="1353">5</text></g>
<g id="e4-88-89"><rect class="b2" x="740" y="1243" width="67" height="14"/><line class="gl" x1="680" y1="1257" x2="875" y2="1257" marker-end="url(#ag)"/><text class="bt" x="773" y="1250">95</text><text class="du" x="762" y="1264">4</text></g>
<g id="e4-89-90"><rect class="b2" x="973" y="1243" width="67" height="14"/><line class="gl" x1="948" y1="1257" x2="1107" y2="1257" marker-end="url(#ag)"/><text class="bt" x="1006" y="1250">96</text><text class="du" x="995" y="1264">1</text></g>
<g id="e4-90-out"><line class="gl" x1="1179" y1="1259" x2="1243" y2="1272"/></g>
<g id="e4-52-75"><rect class="b2" x="447" y="1447" width="60" height="13"/><line class="cr" x1="451" y1="1460" x2="509" y2="1460" marker-end="url(#ar)"/><text class="bt" x="477" y="1453.5">98</text><text class="du" x="463" y="1468">6</text></g>
<g id="e4-75-76"><rect class="b2" x="573" y="1447" width="64" height="13"/><line class="cr" x1="581" y1="1460" x2="636" y2="1460" marker-end="url(#ar)"/><text class="bt" x="605" y="1453.5">99</text><text class="du" x="595" y="1468">1</text></g>
<g id="e4-76-86"><rect class="b2" x="708" y="1447" width="64" height="13"/><line class="cr" x1="708" y1="1460" x2="777" y2="1460" marker-end="url(#ar)"/><text class="bt" x="740" y="1453.5">101</text><text class="du" x="728" y="1468">1</text></g>
<g id="e4-86-97"><rect class="b2" x="842" y="1447" width="63" height="13"/><line class="cr" x1="849" y1="1460" x2="906" y2="1460" marker-end="url(#ar)"/><text class="bt" x="873" y="1453.5">102</text><text class="du" x="862" y="1468">1</text></g>
<g id="e4-97-98"><rect class="b2" x="977" y="1447" width="63" height="13"/><line class="cr" x1="978" y1="1460" x2="1042" y2="1460" marker-end="url(#ar)"/><text class="bt" x="1008" y="1453.5">103</text><text class="du" x="995" y="1468">1</text></g>
<g id="e4-98-99"><rect class="b2" x="1107" y="1447" width="66" height="13"/><line class="cr" x1="1114" y1="1460" x2="1177" y2="1460" marker-end="url(#ar)"/><text class="bt" x="1140" y="1453.5">106</text><text class="du" x="1163" y="1468">2</text></g>
<g id="e4-86-92"><rect class="b2" x="807" y="1385" width="66" height="12"/><line class="gl" x1="813" y1="1443" x2="941" y2="1365" marker-end="url(#ag)"/><text class="bt" x="840" y="1391">104</text><text class="du" x="928" y="1392">1</text></g>
<g id="e4-92-93"><rect class="b2" x="973" y="1333" width="67" height="14"/><line class="gl" x1="978" y1="1347" x2="1042" y2="1347" marker-end="url(#ag)"/><text class="bt" x="1006" y="1340">107</text><text class="du" x="995" y="1355">1</text></g>
<g id="e4-93-94"><rect class="b2" x="1107" y="1333" width="66" height="14"/><line class="gl" x1="1114" y1="1347" x2="1177" y2="1347" marker-end="url(#ag)"/><text class="bt" x="1140" y="1340">108</text><text class="du" x="1128" y="1355">1</text></g>
<g id="e4-52-77"><rect class="b2" x="508" y="1525" width="32" height="12"/><line class="gl" x1="445" y1="1473" x2="607" y2="1550" marker-end="url(#ag)"/><text class="bt" x="524" y="1531">112</text><text class="du" x="562" y="1518">5</text></g>
<g id="e4-77-78"><rect class="b2" x="673" y="1537" width="67" height="13"/><line class="gl" x1="679" y1="1550" x2="743" y2="1550" marker-end="url(#ag)"/><text class="bt" x="706" y="1543.5">113</text><text class="du" x="695" y="1558">3</text></g>
<g id="e4-78-79"><rect class="b2" x="842" y="1537" width="31" height="13"/><line class="gl" x1="815" y1="1550" x2="911" y2="1550" marker-end="url(#ag)"/><text class="bt" x="857" y="1543.5">114</text><text class="du" x="862" y="1558">2</text></g>
<g id="e4-79-80"><rect class="b2" x="1007" y="1537" width="65" height="13"/><line class="gl" x1="983" y1="1550" x2="1072" y2="1550" marker-end="url(#ag)"/><text class="bt" x="1039" y="1543.5">115</text><text class="du" x="1027" y="1558">1</text></g>
<g id="e4-80-out1"><line class="gl" x1="1144" y1="1547" x2="1243" y2="1527"/></g>
<g id="e4-80-out2"><line class="gl" x1="1144" y1="1551" x2="1243" y2="1551"/></g>
<rect class="b2" x="1240" y="1333" width="3" height="14"/>
<rect class="b1" x="1240" y="1493" width="3" height="20"/>
<rect class="b1" x="1240" y="1537" width="3" height="13"/>
</g>
</g>
</svg>
